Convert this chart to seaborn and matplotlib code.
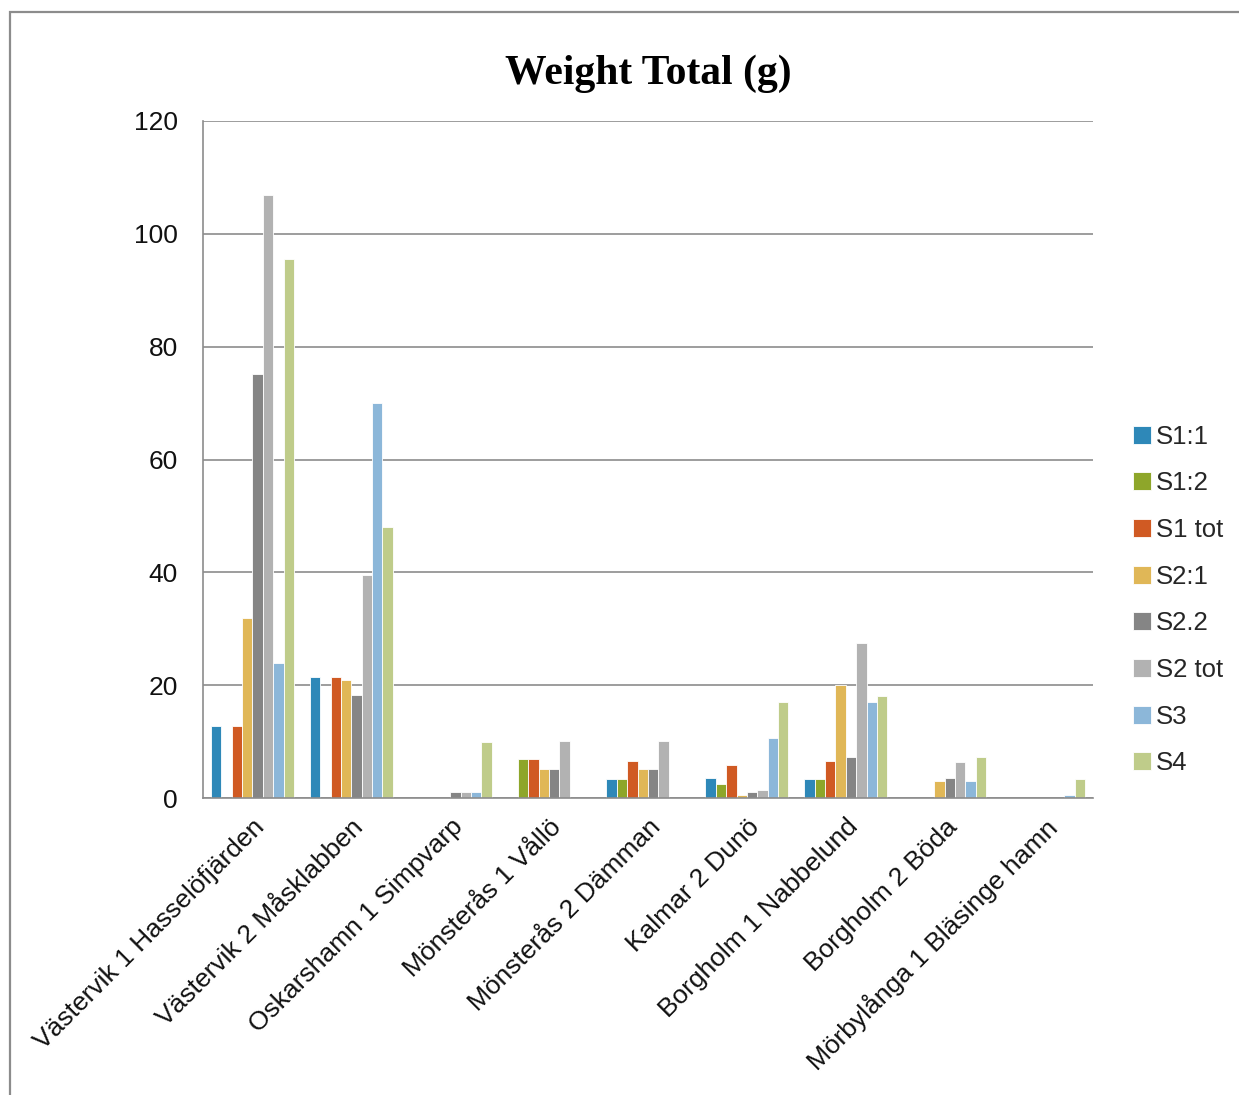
import matplotlib
matplotlib.use("Agg")
import matplotlib.pyplot as plt
import seaborn as sns
import pandas as pd
import numpy as np
from matplotlib.patches import Rectangle

categories = ["Västervik 1 Hasselöfjärden", "Västervik 2 Måsklabben", "Oskarshamn 1 Simpvarp",
              "Mönsterås 1 Vållö", "Mönsterås 2 Dämman", "Kalmar 2 Dunö",
              "Borgholm 1 Nabbelund", "Borgholm 2 Böda", "Mörbylånga 1 Bläsinge hamn"]
series_names = ["S1:1", "S1:2", "S1 tot", "S2:1", "S2.2", "S2 tot", "S3", "S4"]

s1_1   = [12.8, 21.4, 0,   0,   3.3, 3.5,  3.3, 0,   0]
s1_2   = [0,    0,    0,   6.9, 3.3, 2.4,  3.3, 0,   0]
s1_tot = [12.8, 21.4, 0,   6.9, 6.5, 5.8,  6.6, 0,   0]
s2_1   = [31.9, 21.0, 0,   5.1, 5.1, 0.5, 20.0, 3.0, 0]
s2_2   = [75.1, 18.3, 1.0, 5.1, 5.1, 1.0,  7.3, 3.5, 0]
s2_tot = [106.9, 39.5, 1.0, 10.1, 10.1, 1.5, 27.4, 6.4, 0]
s3     = [23.9, 70.0, 1.0, 0,   0,  10.6, 17.1, 3.0, 0.5]
s4     = [95.5, 48.0, 9.9, 0,   0,  17.1, 18.0, 7.3, 3.3]

colors = ["#2E88B8", "#8EA62A", "#D05A23", "#E0B757", "#858585", "#B2B2B2", "#8CB7D9", "#BFCC8A"]

all_series = [s1_1, s1_2, s1_tot, s2_1, s2_2, s2_tot, s3, s4]
rows = []
for name, vals in zip(series_names, all_series):
    for cat, v in zip(categories, vals):
        rows.append({"Site": cat, "Series": name, "Weight": v})
df = pd.DataFrame(rows)

sns.set_theme(style="white")
plt.rcParams['font.family'] = ['Liberation Sans', 'DejaVu Sans']

fig = plt.figure(figsize=(12.39, 10.95), dpi=100)
ax = fig.add_axes([203/1239, 1 - 798/1095, (1093-203)/1239, (798-121)/1095])

sns.barplot(data=df, x="Site", y="Weight", hue="Series", order=categories,
            hue_order=series_names, palette=colors, saturation=1, ax=ax, width=0.84,
            edgecolor="white", linewidth=0.6, legend=True)

ax.set_ylim(0, 120)
ax.set_yticks(np.arange(0, 121, 20))
ax.set_xlim(-0.5, len(categories) - 0.5)
ax.yaxis.grid(True, color="#8C8C8C", linewidth=1.2)
ax.set_axisbelow(True)
ax.set_xlabel("")
ax.set_ylabel("")
for side in ["top", "right"]:
    ax.spines[side].set_visible(False)
for side in ["left", "bottom"]:
    ax.spines[side].set_color("#8C8C8C")
    ax.spines[side].set_linewidth(1.2)

ax.tick_params(axis="y", labelsize=19, pad=18, length=0, labelcolor="#111111")
ax.tick_params(axis="x", labelsize=19, length=0, pad=12, labelcolor="#111111")
plt.setp(ax.get_xticklabels(), rotation=45, ha="right", rotation_mode="anchor")

ax.set_title("Weight Total (g)", fontsize=30, fontweight="bold",
             family="Liberation Serif", pad=27, color="#000000")

handles, labels = ax.get_legend_handles_labels()
if ax.get_legend():
    ax.get_legend().remove()
fig.legend(handles, labels, loc="center left", bbox_to_anchor=(1110/1239, 1 - 600/1095),
           frameon=False, fontsize=18.5, handlelength=0.7, handleheight=0.7,
           handletextpad=0.2, labelspacing=0.88)

fig.patches.append(Rectangle((10/1239, -0.1), 1.2, 1 - 12/1095 + 0.1,
                             transform=fig.transFigure, fill=False,
                             edgecolor="#8C8C8C", linewidth=1.6))

fig.savefig("out.png", dpi=100)
